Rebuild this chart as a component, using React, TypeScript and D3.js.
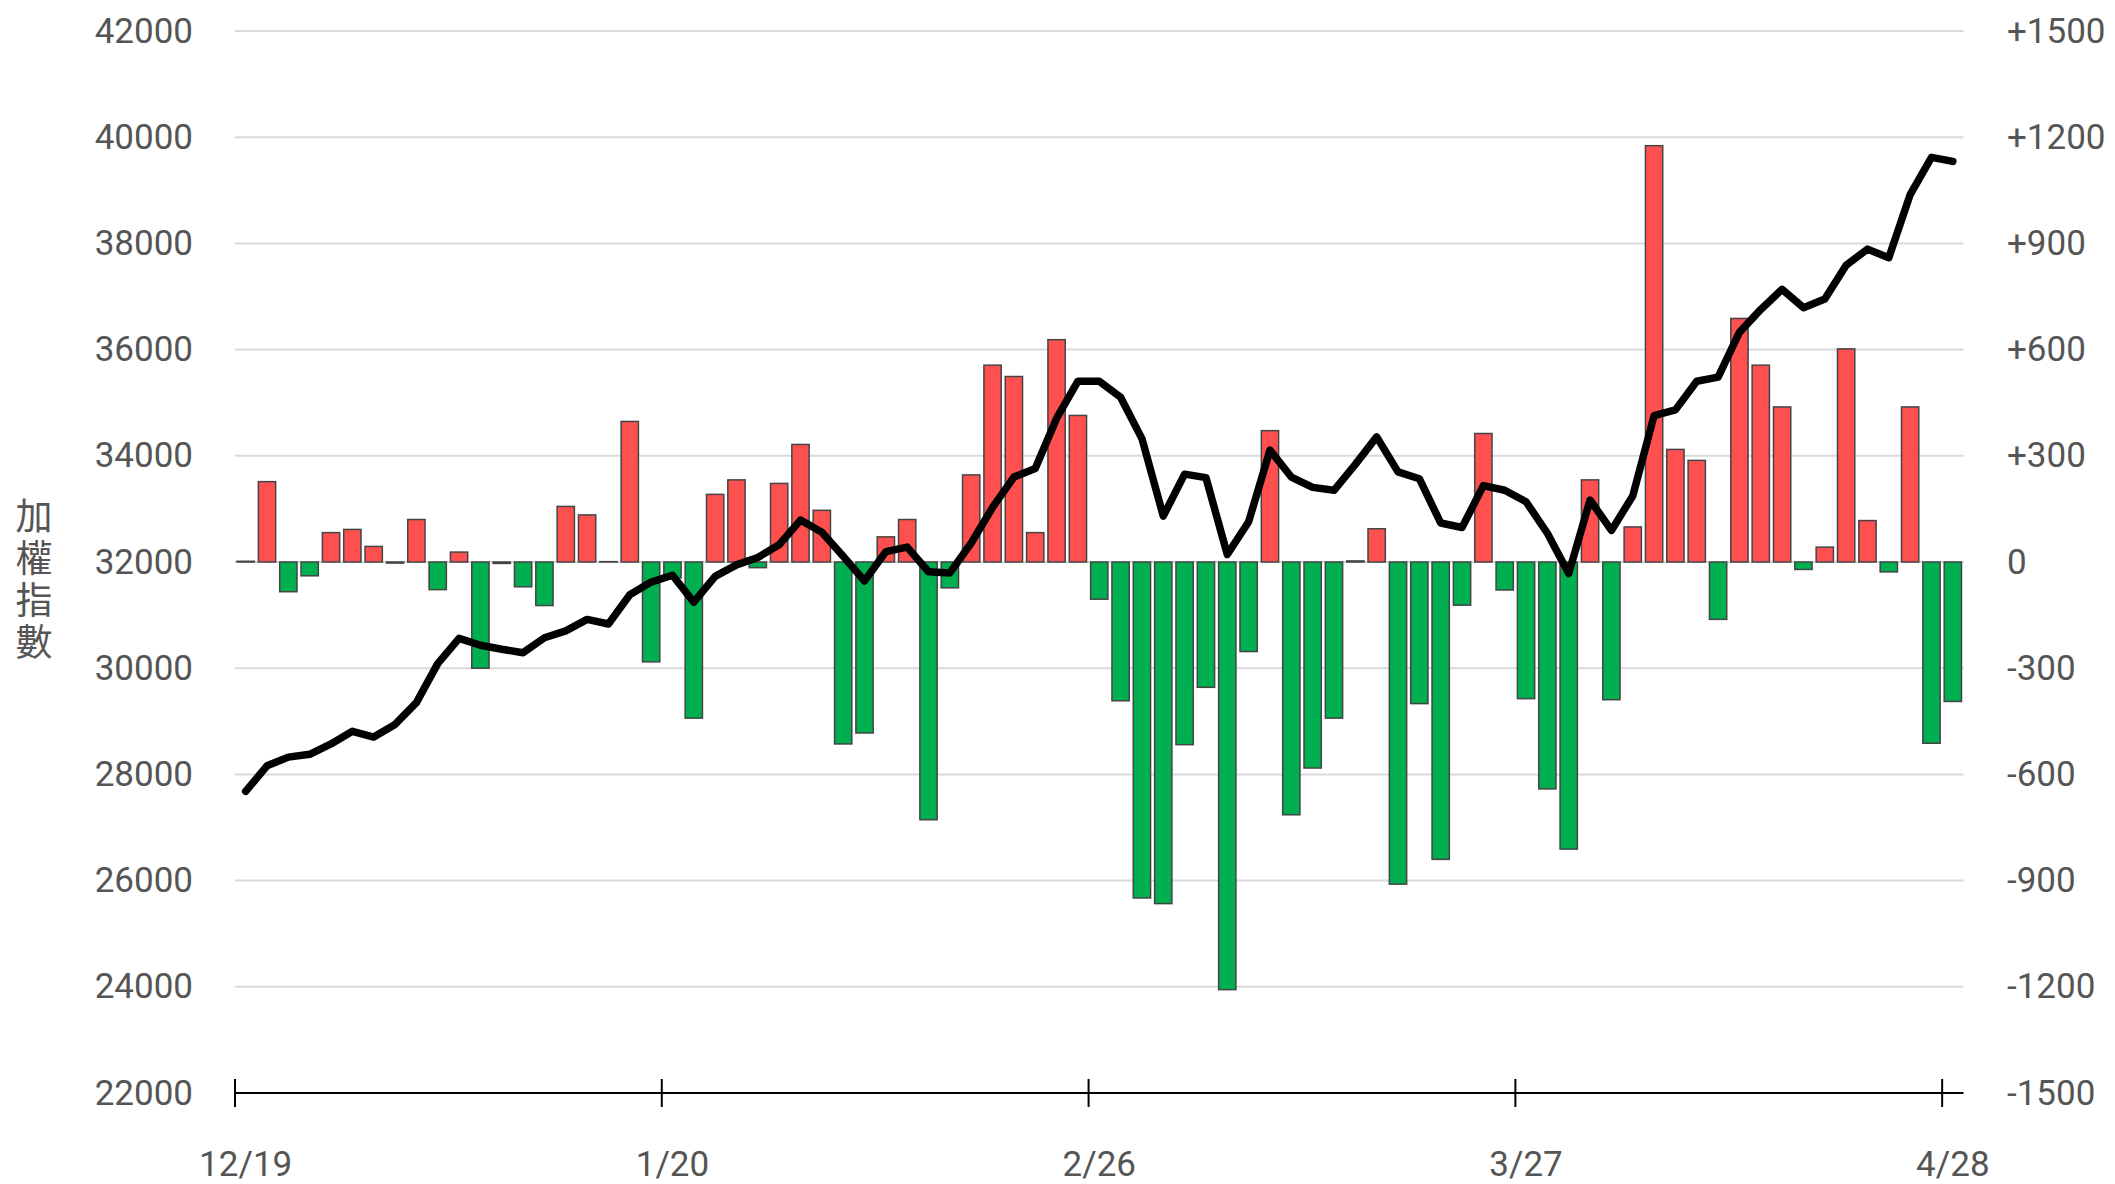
import * as d3 from "d3";

// x axis labels, shown on the listed trading-day positions
const tickLabels = ["12/19", "1/20", "2/26", "3/27", "4/28"];
const tickPositions = [0, 20, 40, 60, 80];

// 加權指數 (left axis, line)
const indexValues = [
  27680, 28162, 28325, 28378, 28573, 28811, 28703, 28941, 29352, 30087,
  30562, 30433, 30357, 30292, 30573, 30703, 30919, 30833, 31384, 31622,
  31751, 31243, 31730, 31946, 32086, 32324, 32789, 32560, 32108, 31643,
  32195, 32281, 31816, 31795, 32357, 33027, 33600, 33762, 34703, 35405,
  35405, 35103, 34324, 32865, 33654, 33589, 32141, 32757, 34108, 33600,
  33405, 33351, 33838, 34357, 33697, 33568, 32735, 32649, 33438, 33351,
  33135, 32541, 31784, 33168, 32595, 33243, 34757, 34865, 35405, 35481,
  36324, 36757, 37135, 36789, 36951, 37589, 37892, 37730, 38918, 39621,
  39545,
];

// daily change (right axis, bars)
const changeValues = [
  2, 227, -84, -39, 83, 92, 44, -3, 120, -78,
  28, -300, -4, -70, -123, 157, 133, 1, 397, -282,
  -45, -441, 191, 232, -16, 222, 332, 146, -514, -483,
  71, 120, -728, -73, 246, 556, 524, 83, 628, 414,
  -105, -392, -949, -965, -516, -354, -1208, -253, 371, -714,
  -582, -441, 3, 94, -910, -400, -840, -122, 363, -79,
  -386, -641, -811, 232, -389, 99, 1176, 318, 287, -162,
  688, 556, 438, -21, 42, 602, 117, -28, 438, -512,
  -394,
];

const leftTicks = [22000, 24000, 26000, 28000, 30000, 32000, 34000, 36000, 38000, 40000, 42000];
const rightTicks = [-1500, -1200, -900, -600, -300, 0, 300, 600, 900, 1200, 1500];
const yTitle = "加權指數";

const W = 2115;
const H = 1184;
const margin = { top: 31, right: 151.5, bottom: 91, left: 235 };
const textColor = "#555";
const font = "Roboto, 'Noto Sans', sans-serif";

const App = () => {
  const plotRight = W - margin.right;
  const plotBottom = H - margin.bottom;

  const x = d3.scaleBand<number>()
    .domain(changeValues.map((_, i) => i))
    .range([margin.left, plotRight])
    .paddingInner(0.19)
    .paddingOuter(0.095);
  const bw = x.bandwidth();
  const edge = (i: number) => (x(i) as number) - x.step() * 0.095;

  const yLeft = d3.scaleLinear().domain([22000, 42000]).range([plotBottom, margin.top]);
  const yRight = d3.scaleLinear().domain([-1500, 1500]).range([plotBottom, margin.top]);

  const line = d3.line<number>()
    .x((_, i) => (x(i) as number) + bw / 2)
    .y(d => yLeft(d));

  const fmtRight = (d: number) => (d > 0 ? `+${d}` : `${d}`);

  return (
    <svg width={W} height={H} style={{ position: "absolute", left: 0, top: 0, background: "#fff" }}>
      {/* grid */}
      {leftTicks.slice(1).map(t => (
        <line key={t} x1={margin.left} x2={plotRight} y1={yLeft(t)} y2={yLeft(t)}
          stroke="#d9d9d9" strokeWidth={2} />
      ))}

      {/* bars */}
      {changeValues.map((v, i) => (
        <rect key={i}
          x={x(i)}
          y={yRight(Math.max(0, v))}
          width={bw}
          height={Math.abs(yRight(v) - yRight(0))}
          fill={v >= 0 ? "#ff5050" : "#00b050"}
          stroke="#444"
          strokeWidth={1.5} />
      ))}

      {/* index line */}
      <path d={line(indexValues) || ""} fill="none" stroke="#000" strokeWidth={7.5}
        strokeLinejoin="round" strokeLinecap="round" />

      {/* x axis */}
      <line x1={margin.left} x2={plotRight} y1={plotBottom} y2={plotBottom} stroke="#000" strokeWidth={2} />
      {tickPositions.map((p, k) => (
        <g key={k}>
          <line x1={edge(p)} x2={edge(p)} y1={plotBottom - 14} y2={plotBottom + 14} stroke="#000" strokeWidth={2} />
          <text x={(x(p) as number) + bw / 2} y={1176} textAnchor="middle"
            fontFamily={font} fontSize={35} fill={textColor}>{tickLabels[k]}</text>
        </g>
      ))}

      {/* left axis labels */}
      {leftTicks.map(t => (
        <text key={t} x={193} y={yLeft(t)} textAnchor="end" dominantBaseline="central"
          fontFamily={font} fontSize={35} fill={textColor}>{t}</text>
      ))}

      {/* right axis labels */}
      {rightTicks.map(t => (
        <text key={t} x={2007} y={yRight(t)} textAnchor="start" dominantBaseline="central"
          fontFamily={font} fontSize={35} fill={textColor}>{fmtRight(t)}</text>
      ))}

      {/* vertical title */}
      <text x={34} y={497} style={{ writingMode: "vertical-rl" }} letterSpacing={5}
        fontFamily="'Noto Sans CJK TC', sans-serif" fontSize={37} fill={textColor}>{yTitle}</text>
    </svg>
  );
};

export default App;
